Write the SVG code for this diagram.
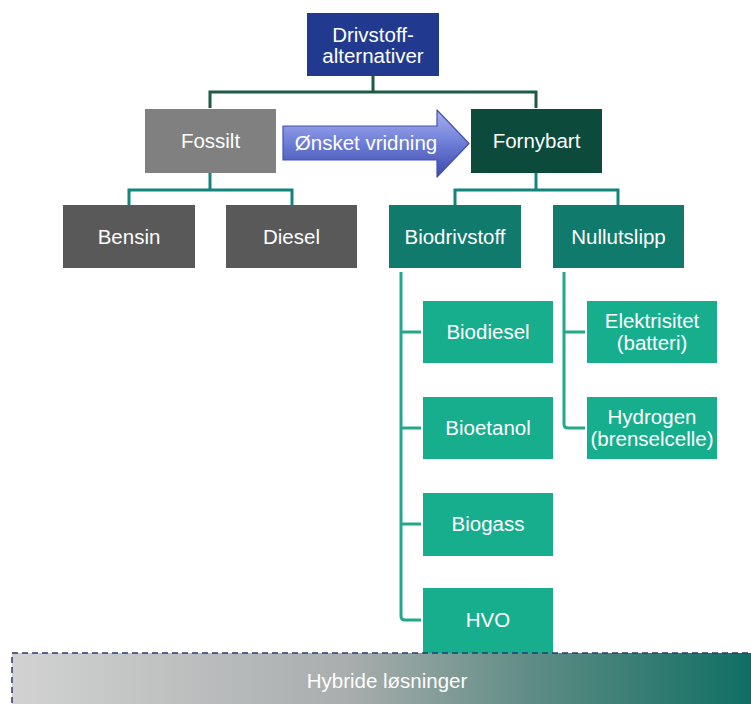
<svg xmlns="http://www.w3.org/2000/svg" width="751" height="704" viewBox="0 0 751 704">
<style>
text{font-family:"Liberation Sans",Arial,sans-serif;fill:#fff;text-anchor:middle;font-size:20.5px}
.conn{fill:none;stroke-width:3}
</style>
<defs>
<linearGradient id="arrowG" x1="0" y1="0" x2="0" y2="1">
<stop offset="0" stop-color="#a8b2ef"/>
<stop offset="0.45" stop-color="#7282da"/>
<stop offset="1" stop-color="#3a4aab"/>
</linearGradient>
<linearGradient id="bandG" x1="0" y1="0" x2="1" y2="0">
<stop offset="0" stop-color="#d2d2d2"/>
<stop offset="0.45" stop-color="#a9adad"/>
<stop offset="0.7" stop-color="#5e8c84"/>
<stop offset="1" stop-color="#0d6e63"/>
</linearGradient>
</defs>
<rect width="751" height="704" fill="#fff"/>
<g id="connectors">
<path class="conn" stroke="#1d5b45" d="M373,76 V92 M210,108 V92 H536 V108"/>
<path class="conn" stroke="#14857a" d="M210,173 V190 M129,205 V190 H292 V205"/>
<path class="conn" stroke="#14857a" d="M536,173 V190 M455,205 V190 H618 V205"/>
<path class="conn" stroke="#22a88c" d="M401,272 V616 Q401,620 405,620 H421 M401,332 H421 M401,428 H421 M401,524 H421"/>
<path class="conn" stroke="#22a88c" d="M564,272 V424 Q564,428 568,428 H585 M564,332 H585"/>
</g>
<g id="arrow">
<path d="M283,126 H437 V110 L469,143.5 L437,177 V160 H283 Z" fill="url(#arrowG)" stroke="#4354b0" stroke-width="1.2" stroke-linejoin="round"/>
<text x="366" y="150" font-size="19" fill="#f2f4ff">Ønsket vridning</text>
</g>
<g id="drivstoff">
<rect x="307" y="13" width="132" height="63" fill="#213a8f"/>
<text x="373" y="42">Drivstoff-</text>
<text x="373" y="63">alternativer</text>
</g>
<g id="fossilt">
<rect x="145" y="109" width="131" height="64" fill="#808080"/>
<text x="210.5" y="148">Fossilt</text>
</g>
<g id="fornybart">
<rect x="471" y="109" width="131" height="64" fill="#0c4a3b"/>
<text x="536.5" y="148">Fornybart</text>
</g>
<g id="bensin">
<rect x="63" y="205" width="132" height="63" fill="#595959"/>
<text x="129" y="244">Bensin</text>
</g>
<g id="diesel">
<rect x="226" y="205" width="131" height="63" fill="#595959"/>
<text x="291.5" y="244">Diesel</text>
</g>
<g id="biodrivstoff">
<rect x="389" y="205" width="132" height="63" fill="#107a6d"/>
<text x="455" y="244">Biodrivstoff</text>
</g>
<g id="nullutslipp">
<rect x="553" y="205" width="131" height="63" fill="#107a6d"/>
<text x="618.5" y="244">Nullutslipp</text>
</g>
<g id="biodiesel">
<rect x="423" y="301" width="130" height="62" fill="#17ae8e"/>
<text x="488" y="339">Biodiesel</text>
</g>
<g id="bioetanol">
<rect x="423" y="397" width="130" height="62" fill="#17ae8e"/>
<text x="488" y="435">Bioetanol</text>
</g>
<g id="biogass">
<rect x="423" y="493" width="130" height="63" fill="#17ae8e"/>
<text x="488" y="531">Biogass</text>
</g>
<g id="hvo">
<rect x="423" y="588" width="130" height="65" fill="#17ae8e"/>
<text x="488" y="627">HVO</text>
</g>
<g id="elektrisitet">
<rect x="587" y="301" width="130" height="62" fill="#17ae8e"/>
<text x="652" y="328" font-size="19.5">Elektrisitet</text>
<text x="652" y="350" font-size="19.5">(batteri)</text>
</g>
<g id="hydrogen">
<rect x="587" y="397" width="130" height="62" fill="#17ae8e"/>
<text x="652" y="424" font-size="19.5">Hydrogen</text>
<text x="652" y="446" font-size="19.5">(brenselcelle)</text>
</g>
<g id="hybride">
<rect x="12" y="653" width="745" height="60" fill="url(#bandG)" stroke="#2b3a6e" stroke-width="1.5" stroke-dasharray="6,4"/>
<text x="387" y="688" font-size="18">Hybride løsninger</text>
</g>
</svg>
